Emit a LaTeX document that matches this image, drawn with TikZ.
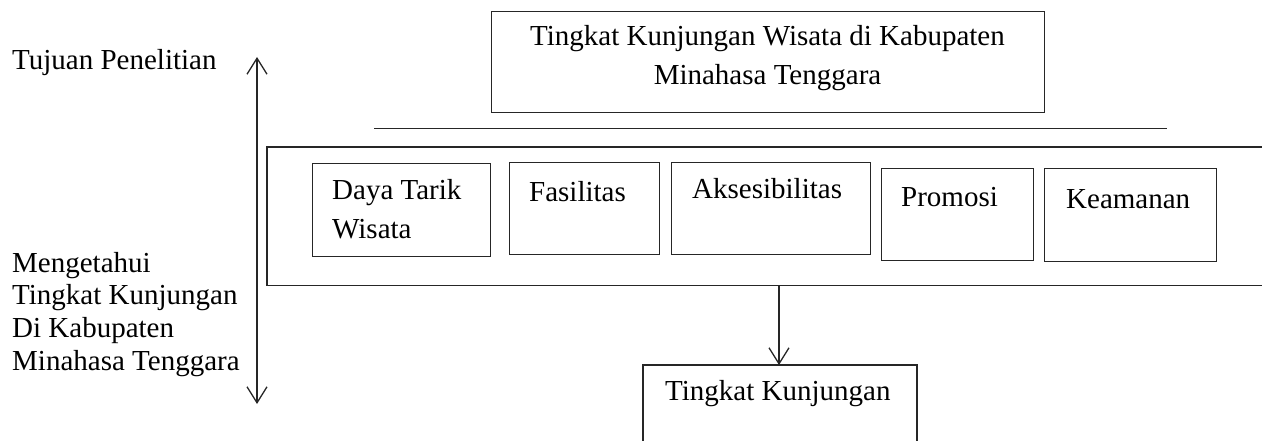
\documentclass[tikz,border=0pt]{standalone}
\usepackage{fontspec}
\setmainfont{Liberation Serif}
\usetikzlibrary{arrows.meta}
\tikzset{
  ln/.style={line width=1.3pt, draw=black!85},
  bx/.style={ln, draw, rectangle, anchor=north west, inner sep=0pt},
  lbl/.style={anchor=base west, inner sep=0pt, font=\fontsize{29}{33}\selectfont},
  clbl/.style={anchor=base, inner sep=0pt, font=\fontsize{29}{31}\selectfont},
  arr/.style={ln, -{Straight Barb[length=16pt,width=20pt,line width=1.3pt]}},
  darr/.style={ln, {Straight Barb[length=16pt,width=20pt,line width=1.3pt]}-{Straight Barb[length=16pt,width=20pt,line width=1.3pt]}}
}
\begin{document}
\begin{tikzpicture}[x=1pt,y=-1pt]
\useasboundingbox (0,0) rectangle (1262,441);
% left labels and double arrow
\node[lbl] (tujuan) at (12,70) {Tujuan Penelitian};
\node[lbl] (m1) at (12,272) {Mengetahui};
\node[lbl] (m2) at (12,304) {Tingkat Kunjungan};
\node[lbl] (m3) at (12,337) {Di Kabupaten};
\node[lbl] (m4) at (12,370) {Minahasa Tenggara};
\coordinate (lt) at (257,57);
\coordinate (lb) at (257,404);
\draw[darr] (lb) -- (lt);
% top box
\node[bx, minimum width=553pt, minimum height=101pt] (top) at (491,11) {};
\node[clbl] (topt1) at (767.5,46) {Tingkat Kunjungan Wisata di Kabupaten};
\node[clbl] (topt2) at (767.5,85) {Minahasa Tenggara};
% separator line
\coordinate (sl) at (374,128.5);
\coordinate (sr) at (1167,128.5);
\draw[ln] (sl) -- (sr);
% container open on the right
\coordinate (ctr) at (1263,147);
\coordinate (ctl) at (267,147);
\coordinate (cbl) at (267,285.5);
\coordinate (cbr) at (1263,285.5);
\draw[ln] (ctr) -- (ctl) -- (cbl) -- (cbr);
% factor boxes
\node[bx, minimum width=178pt, minimum height=93pt] (daya) at (312,163) {};
\node[lbl] (dayat1) at (332,200) {Daya Tarik};
\node[lbl] (dayat2) at (332,238) {Wisata};
\node[bx, minimum width=150pt, minimum height=92pt] (fas) at (509,162) {};
\node[lbl] (fast) at (529,201) {Fasilitas};
\node[bx, minimum width=199pt, minimum height=92pt] (aks) at (671,162) {};
\node[lbl] (akst) at (692,199) {Aksesibilitas};
\node[bx, minimum width=152pt, minimum height=92pt] (pro) at (881,168) {};
\node[lbl] (prot) at (901,207) {Promosi};
\node[bx, minimum width=172pt, minimum height=93pt] (kea) at (1044,168) {};
\node[lbl] (keat) at (1066,208) {Keamanan};
% arrow down to bottom box
\coordinate (as) at (779,285.5);
\coordinate (bbt) at (779,365);
\draw[arr] (as) -- (bbt);
% bottom box open at the bottom
\coordinate (bbl) at (643,442);
\coordinate (bbtl) at (643,365);
\coordinate (bbtr) at (917,365);
\coordinate (bbr) at (917,442);
\draw[ln] (bbl) -- (bbtl) -- (bbtr) -- (bbr);
\node[lbl] (bott) at (665,400) {Tingkat Kunjungan};
\end{tikzpicture}
\end{document}
